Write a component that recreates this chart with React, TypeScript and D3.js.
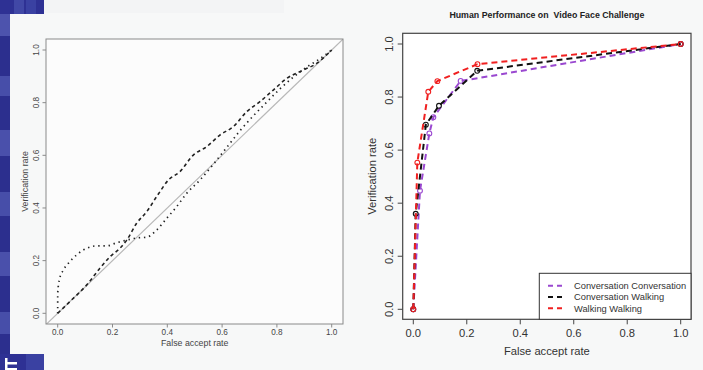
import * as d3 from 'd3';

// left panel: two curves (no legend in the source)
const DASHED_FAR = [0, 0.05, 0.106, 0.154, 0.191, 0.227, 0.252, 0.288, 0.325, 0.361, 0.404, 0.446, 0.495, 0.544, 0.592, 0.641, 0.69, 0.738, 0.787, 0.836, 0.897, 0.945, 1];
const DASHED_VR = [0, 0.05, 0.108, 0.171, 0.215, 0.247, 0.278, 0.342, 0.386, 0.443, 0.506, 0.538, 0.601, 0.633, 0.677, 0.709, 0.766, 0.804, 0.848, 0.892, 0.924, 0.949, 1];
const DOTTED_FAR = [0, 0, 0.006, 0.021, 0.039, 0.069, 0.106, 0.142, 0.179, 0.215, 0.252, 0.288, 0.325, 0.361, 0.398, 0.434, 0.471, 0.519, 0.568, 0.617, 0.665, 0.714, 0.763, 0.811, 0.86, 0.909, 0.957, 1];
const DOTTED_VR = [0, 0.076, 0.127, 0.165, 0.19, 0.222, 0.247, 0.256, 0.256, 0.268, 0.278, 0.286, 0.289, 0.316, 0.361, 0.405, 0.456, 0.506, 0.566, 0.63, 0.693, 0.75, 0.802, 0.852, 0.897, 0.935, 0.967, 1];

// right panel
const TITLE = 'Human Performance on  Video Face Challenge';
const SERIES_NAMES = ['Conversation Conversation', 'Conversation Walking', 'Walking Walking'];
const SERIES_COLORS = ['#9a48d0', '#111111', '#f02020'];
const CC_FAR = [0, 0.025, 0.06, 0.075, 0.177, 0.24, 1];
const CC_VR = [0, 0.447, 0.663, 0.724, 0.861, 0.871, 1];
const CC_MARK = [true, true, true, true, true, false, true];
const CW_FAR = [0, 0.009, 0.047, 0.096, 0.239, 1];
const CW_VR = [0, 0.36, 0.696, 0.767, 0.899, 1];
const WW_FAR = [0, 0.015, 0.056, 0.09, 0.24, 1];
const WW_VR = [0, 0.553, 0.82, 0.86, 0.924, 1];

const TICKS = [0, 0.2, 0.4, 0.6, 0.8, 1];

// slide decoration stripes on the left edge: [y0, y1, colour]
const STRIPES: [number, number, string][] = [
  [14, 36, '#4d53ad'], [36, 76, '#2c2f8e'], [76, 96, '#474ea9'], [96, 130, '#2c2f8e'],
  [130, 156, '#4a50ab'], [156, 192, '#2c2f8e'], [192, 216, '#474ea9'], [216, 252, '#2c2f8e'],
  [252, 276, '#4a50ab'], [276, 312, '#2c2f8e'], [312, 334, '#474ea9'], [334, 354, '#2c2f8e'],
];

type Pt = [number, number];
const zip = (xs: number[], ys: number[]): Pt[] => xs.map((x, i) => [x, ys[i]]);

export default function App() {
  // left panel geometry
  const lx = d3.scaleLinear().domain([0, 1]).range([57.7, 331.7]);
  const ly = d3.scaleLinear().domain([0, 1]).range([313.3, 50]);
  const lBox = { x0: 46, x1: 343, y0: 39, y1: 324 };
  const lLine = d3.line<Pt>().x(d => lx(d[0])).y(d => ly(d[1])).curve(d3.curveMonotoneX);
  const lDiag = d3.line<Pt>().x(d => lx(d[0])).y(d => ly(d[1]));

  // right panel geometry
  const rx = d3.scaleLinear().domain([0, 1]).range([413.3, 680.7]);
  const ry = d3.scaleLinear().domain([0, 1]).range([309.3, 44]);
  const rBox = { x0: 402.7, x1: 691, y0: 33.3, y1: 319.3 };
  const rLine = d3.line<Pt>().x(d => rx(d[0])).y(d => ry(d[1]));

  const series = [
    { pts: zip(CC_FAR, CC_VR), mark: CC_MARK },
    { pts: zip(CW_FAR, CW_VR), mark: CW_FAR.map(() => true) },
    { pts: zip(WW_FAR, WW_VR), mark: WW_FAR.map(() => true) },
  ];

  const font = 'Liberation Sans, Arial, Helvetica, sans-serif';
  const lText = '#454545';

  return (
    <svg width={703} height={370} style={{ position: 'absolute', left: 0, top: 0, fontFamily: font }}>
      <rect width={703} height={370} fill="#f7f8f8" />

      {/* slide decoration */}
      <rect x={0} y={0} width={44} height={14} fill="#2e3194" />
      <rect x={14} y={0} width={10} height={14} fill="#4148a6" />
      <rect x={26} y={0} width={10} height={14} fill="#3a41a2" />
      <rect x={44} y={0} width={240} height={13} fill="#f3f4f5" />
      {STRIPES.map(([a, b, c], i) => (
        <rect key={i} x={0} y={a} width={10} height={b - a} fill={c} />
      ))}
      <rect x={0} y={354} width={44} height={16} fill="#2e3194" />
      <rect x={26} y={354} width={18} height={16} fill="#3a41a2" />
      <rect x={5} y={358} width={2.5} height={12} fill="#ffffff" />
      <rect x={7} y={362} width={10} height={2.5} fill="#ffffff" />
      <rect x={7} y={368} width={10} height={2} fill="#ffffff" />

      {/* ---------- left panel ---------- */}
      <rect x={lBox.x0} y={lBox.y0} width={lBox.x1 - lBox.x0} height={lBox.y1 - lBox.y0} fill="#fcfcfc" />
      <defs>
        <clipPath id="lclip">
          <rect x={lBox.x0} y={lBox.y0} width={lBox.x1 - lBox.x0} height={lBox.y1 - lBox.y0} />
        </clipPath>
      </defs>
      <path d={lDiag([[-0.05, -0.05], [1.05, 1.05]]) ?? ''} stroke="#b8b8b8" strokeWidth={1.2} fill="none" clipPath="url(#lclip)" />
      <path d={lLine(zip(DASHED_FAR, DASHED_VR)) ?? ''} stroke="#222" strokeWidth={1.6} strokeDasharray="3.5 3" fill="none" />
      <path d={lLine(zip(DOTTED_FAR, DOTTED_VR)) ?? ''} stroke="#222" strokeWidth={1.7} strokeDasharray="1.4 3.8" fill="none" />
      <rect x={lBox.x0} y={lBox.y0} width={lBox.x1 - lBox.x0} height={lBox.y1 - lBox.y0} fill="none" stroke="#8a8a8a" strokeWidth={1} />

      {TICKS.map(t => (
        <g key={'lx' + t}>
          <line x1={lx(t)} x2={lx(t)} y1={lBox.y1} y2={lBox.y1 + 3.5} stroke="#8a8a8a" />
          <text x={lx(t)} y={lBox.y1 + 11} textAnchor="middle" fontSize={8.2} fill={lText}>{t.toFixed(1)}</text>
        </g>
      ))}
      {TICKS.map(t => (
        <g key={'ly' + t}>
          <line x1={lBox.x0} x2={lBox.x0 - 3.5} y1={ly(t)} y2={ly(t)} stroke="#8a8a8a" />
          <text transform={`translate(${lBox.x0 - 7},${ly(t)}) rotate(-90)`} textAnchor="middle" fontSize={8.2} fill={lText}>{t.toFixed(1)}</text>
        </g>
      ))}
      <text x={(lx(0) + lx(1)) / 2} y={345.5} textAnchor="middle" fontSize={8.8} fill={lText}>False accept rate</text>
      <text transform={`translate(28,${(lBox.y0 + lBox.y1) / 2}) rotate(-90)`} textAnchor="middle" fontSize={8.8} fill={lText}>Verification rate</text>

      {/* ---------- right panel ---------- */}
      <text x={(rBox.x0 + rBox.x1) / 2} y={18} textAnchor="middle" fontSize={8.8} fontWeight="bold" fill="#222" style={{ whiteSpace: 'pre' }}>{TITLE}</text>
      <rect x={rBox.x0} y={rBox.y0} width={rBox.x1 - rBox.x0} height={rBox.y1 - rBox.y0} fill="#ffffff" />
      {series.map((s, i) => (
        <g key={'s' + i}>
          <path d={rLine(s.pts) ?? ''} stroke={SERIES_COLORS[i]} strokeWidth={2} strokeDasharray="6 4" fill="none" />
          {s.pts.map((p, j) => s.mark[j] ? (
            <circle key={j} cx={rx(p[0])} cy={ry(p[1])} r={2.4} fill="none" stroke={SERIES_COLORS[i]} strokeWidth={1.1} />
          ) : null)}
        </g>
      ))}
      <rect x={rBox.x0} y={rBox.y0} width={rBox.x1 - rBox.x0} height={rBox.y1 - rBox.y0} fill="none" stroke="#444" strokeWidth={1.2} />

      {TICKS.map(t => (
        <g key={'rx' + t}>
          <line x1={rx(t)} x2={rx(t)} y1={rBox.y1} y2={rBox.y1 + 5} stroke="#444" />
          <text x={rx(t)} y={rBox.y1 + 18} textAnchor="middle" fontSize={11.2} fill="#333">{t.toFixed(1)}</text>
        </g>
      ))}
      {TICKS.map(t => (
        <g key={'ry' + t}>
          <line x1={rBox.x0} x2={rBox.x0 - 5} y1={ry(t)} y2={ry(t)} stroke="#444" />
          <text transform={`translate(${rBox.x0 - 10},${ry(t)}) rotate(-90)`} textAnchor="middle" fontSize={11.2} fill="#333">{t.toFixed(1)}</text>
        </g>
      ))}
      <text x={(rBox.x0 + rBox.x1) / 2} y={355} textAnchor="middle" fontSize={11.2} fill="#333">False accept rate</text>
      <text transform={`translate(375.5,${(rBox.y0 + rBox.y1) / 2}) rotate(-90)`} textAnchor="middle" fontSize={11.2} fill="#333">Verification rate</text>

      {/* legend */}
      <rect x={539.3} y={273.3} width={rBox.x1 - 539.3} height={rBox.y1 - 273.3} fill="#ffffff" stroke="#333" strokeWidth={1} />
      {SERIES_NAMES.map((name, i) => {
        const y = 285.7 + i * 11.3;
        return (
          <g key={name}>
            <line x1={548} x2={562} y1={y} y2={y} stroke={SERIES_COLORS[i]} strokeWidth={2} strokeDasharray="5 4" />
            <text x={574} y={y + 3.3} fontSize={9.3} fill="#333">{name}</text>
          </g>
        );
      })}
    </svg>
  );
}
